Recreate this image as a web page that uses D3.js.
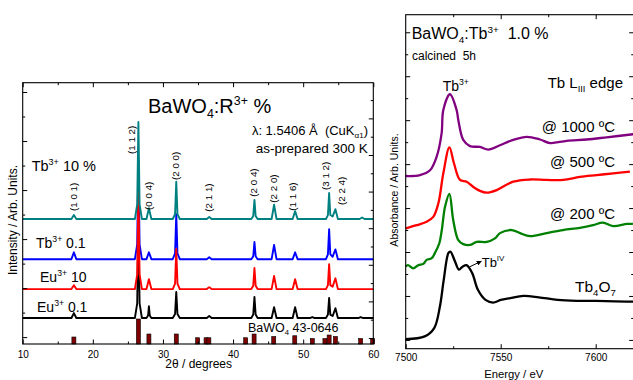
<!DOCTYPE html>
<html>
<head>
<meta charset="utf-8">
<script src="https://cdn.jsdelivr.net/npm/d3@7"></script>
<style>
  body { margin: 0; background: #fff; }
  svg { display: block; font-family: 'Liberation Sans', Arial, sans-serif; }
  text { white-space: pre; }
</style>
</head>
<body>
<div id="chart"></div>
<script>
// ---- left panel data: XRD patterns, [2theta, intensity above the pattern's own baseline]
// drawn bottom to top: Eu 0.1, Tb 0.1, Eu 10, Tb 10
const xrdColors = ['#000000', '#0000ff', '#ff0000', '#008080'];
const xrdOffsets = [0.39, 1.59, 0.98, 2.41];

const xrdEu01 = [
  [10, 0], [16.95, 0], [17.3, 0.10], [17.65, 0],
  [26.0, 0], [26.33, 0.3], [26.5, 2.0], [26.67, 0.3], [27.0, 0],
  [27.65, 0], [27.88, 0.05], [28.0, 0.24], [28.12, 0.05], [28.35, 0],
  [31.4, 0], [31.73, 0.08], [31.9, 0.53], [32.07, 0.08], [32.4, 0],
  [36.25, 0], [36.6, 0.04], [36.95, 0],
  [42.6, 0], [42.88, 0.07], [43.05, 0.43], [43.22, 0.07], [43.5, 0],
  [45.5, 0], [45.85, 0.22], [46.2, 0],
  [48.5, 0], [48.85, 0.22], [49.2, 0],
  [50.95, 0], [51.3, 0.02], [51.65, 0],
  [53.25, 0], [53.53, 0.07], [53.7, 0.41], [53.87, 0.07], [54.2, 0.04],
  [54.6, 0.2], [54.95, 0],
  [57.85, 0], [58.2, 0.02], [58.55, 0], [60, 0]
];
const xrdTb01 = [
  [10, 0], [16.95, 0], [17.3, 0.14], [17.65, 0],
  [26.0, 0], [26.33, 0.3], [26.5, 2.0], [26.67, 0.3], [27.0, 0],
  [27.65, 0], [28.0, 0.14], [28.35, 0],
  [31.4, 0], [31.73, 0.12], [31.9, 0.92], [32.07, 0.12], [32.4, 0],
  [36.25, 0], [36.6, 0.04], [36.95, 0],
  [42.6, 0], [42.88, 0.06], [43.05, 0.35], [43.22, 0.06], [43.5, 0],
  [45.5, 0], [45.85, 0.29], [46.2, 0],
  [48.5, 0], [48.85, 0.14], [49.2, 0],
  [53.25, 0], [53.53, 0.1], [53.7, 0.61], [53.87, 0.1], [54.2, 0.05],
  [54.6, 0.2], [54.95, 0], [60, 0]
];
const xrdEu10 = [
  [10, 0], [16.95, 0], [17.3, 0.08], [17.65, 0],
  [26.0, 0], [26.33, 0.3], [26.5, 2.0], [26.67, 0.3], [27.0, 0],
  [27.65, 0], [28.0, 0.2], [28.35, 0],
  [31.4, 0], [31.73, 0.11], [31.9, 0.82], [32.07, 0.11], [32.4, 0],
  [36.25, 0], [36.6, 0.04], [36.95, 0],
  [42.6, 0], [42.88, 0.07], [43.05, 0.43], [43.22, 0.07], [43.5, 0],
  [45.5, 0], [45.85, 0.27], [46.2, 0],
  [48.5, 0], [48.85, 0.2], [49.2, 0],
  [53.25, 0], [53.53, 0.08], [53.7, 0.51], [53.87, 0.08], [54.2, 0.05],
  [54.6, 0.22], [54.95, 0], [60, 0]
];
const xrdTb10 = [
  [10, 0], [16.95, 0], [17.3, 0.08], [17.65, 0],
  [26.0, 0], [26.33, 0.3], [26.5, 1.98], [26.67, 0.3], [27.0, 0],
  [27.65, 0], [28.0, 0.22], [28.35, 0],
  [31.4, 0], [31.73, 0.1], [31.9, 0.76], [32.07, 0.1], [32.4, 0],
  [36.25, 0], [36.6, 0.04], [36.95, 0],
  [42.6, 0], [42.88, 0.06], [43.05, 0.39], [43.22, 0.06], [43.5, 0],
  [45.5, 0], [45.85, 0.29], [46.2, 0],
  [48.5, 0], [48.85, 0.16], [49.2, 0],
  [53.25, 0], [53.53, 0.08], [53.7, 0.53], [53.87, 0.08], [54.2, 0.05],
  [54.6, 0.2], [54.95, 0],
  [58.05, 0], [58.4, 0.03], [58.75, 0], [60, 0]
];
const xrdSeries = [xrdEu01, xrdTb01, xrdEu10, xrdTb10];

// reference card BaWO4 43-0646
const pdfPos = [17.3, 26.5, 28.0, 31.9, 34.95, 36.15, 36.55, 41.8, 43.0, 45.8, 48.8, 51.3, 53.1, 53.7, 54.6, 58.2, 59.9];
const pdfInt = [28, 100, 40, 40, 25, 25, 25, 25, 40, 30, 33, 22, 22, 36, 30, 22, 22];

const millerLabels = ['(1 0 1)', '(1 1 2)', '(0 0 4)', '(2 0 0)', '(2 1 1)', '(2 0 4)', '(2 2 0)', '(1 1 6)', '(3 1 2)', '(2 2 4)'];
const millerX = [73, 131, 148.3, 175, 209, 254, 274, 293, 325.7, 341];
const millerBottom = [211, 154, 210, 180, 211.7, 196.7, 202.7, 210.7, 190, 205];

const xrdTicks = [10, 20, 30, 40, 50, 60];

// ---- right panel data: Tb L3-edge XANES, [energy eV, absorbance]
const xanesColors = ['#000000', '#008000', '#ff0000', '#800080'];
const xanesTb4O7 = [
  [7500, 0.02], [7510, 0.08], [7515, 0.27], [7518, 0.76], [7520, 1.36], [7522.5, 1.98],
  [7523.5, 2.01], [7526, 1.78], [7528, 1.60], [7530, 1.67], [7532, 1.70], [7535, 1.52],
  [7538, 1.14], [7542, 0.91], [7546, 0.85], [7550, 0.91], [7555, 0.95], [7562, 1.00],
  [7570, 0.97], [7580, 0.91], [7590, 0.89], [7600, 0.89], [7620, 0.87]
];
const xanes200 = [
  [7500, 1.67], [7501.2, 1.70], [7504, 1.63], [7506.6, 1.70], [7509.3, 1.73], [7511, 1.82],
  [7513.7, 1.86], [7515.4, 1.98], [7517.7, 2.20], [7519, 2.5], [7520.7, 3.03], [7523, 3.32],
  [7525, 2.73], [7527.7, 2.27], [7530.3, 2.18], [7533.8, 2.16], [7537.4, 2.23], [7542.6, 2.23],
  [7547, 2.31], [7549.6, 2.43], [7555.8, 2.5], [7560.2, 2.43], [7565.4, 2.36], [7574.2, 2.43],
  [7582.8, 2.5], [7591.7, 2.55], [7598.6, 2.61], [7603.8, 2.67], [7609.1, 2.59], [7616.5, 2.64],
  [7619.6, 2.64]
];
const xanes500 = [
  [7500, 2.54], [7505.8, 2.61], [7511, 2.69], [7514.5, 2.80], [7517.2, 3.11], [7519.8, 3.79],
  [7523, 4.38], [7525.4, 4.02], [7528.6, 3.64], [7532.1, 3.60], [7535.6, 3.48], [7539.1, 3.39],
  [7542.6, 3.35], [7547.9, 3.41], [7556.6, 3.60], [7565.4, 3.65], [7574.2, 3.64], [7582.9, 3.64],
  [7591.7, 3.71], [7600.5, 3.75], [7609.3, 3.79], [7618, 3.83]
];
const xanes1000 = [
  [7500, 3.73], [7507.5, 3.75], [7512.8, 3.86], [7516.3, 4.17], [7518.9, 4.70], [7519.8, 5.23],
  [7523.3, 5.59], [7526.8, 5.23], [7527.7, 5.0], [7530.3, 4.55], [7533.8, 4.41], [7539.1, 4.39],
  [7543.5, 4.33], [7549.6, 4.43], [7556.6, 4.55], [7563.7, 4.62], [7570.7, 4.56], [7576, 4.48],
  [7584.7, 4.53], [7595.3, 4.56], [7605.8, 4.61], [7619.8, 4.68]
];
const xanesSeries = [xanesTb4O7, xanes200, xanes500, xanes1000];
const energyTicks = [7500, 7550, 7600];

const FONT = "'Liberation Sans', Arial, sans-serif";

const svg = d3.select('#chart').append('svg').attr('width', 633).attr('height', 380);

svg.append('defs').append('marker')
  .attr('id', 'arrow').attr('viewBox', '0 0 10 10').attr('refX', 9).attr('refY', 5)
  .attr('markerWidth', 5).attr('markerHeight', 5).attr('orient', 'auto')
  .append('path').attr('d', 'M0,0L10,5L0,10z').attr('fill', '#000');

function addAxis(orient, scale, major, minor, tx, ty, labels, pad) {
  const make = { bottom: d3.axisBottom, top: d3.axisTop, left: d3.axisLeft, right: d3.axisRight }[orient];
  const gMinor = svg.append('g').attr('transform', `translate(${tx},${ty})`)
    .call(make(scale).tickValues(minor).tickSize(-2.5).tickSizeOuter(0).tickFormat(''));
  const gMajor = svg.append('g').attr('transform', `translate(${tx},${ty})`)
    .call(make(scale).tickValues(major).tickSize(-4.5).tickSizeOuter(0).tickPadding(pad || 4)
      .tickFormat(labels ? d3.format('d') : ''));
  [gMinor, gMajor].forEach(g => {
    g.select('.domain').remove();
    g.selectAll('line').attr('stroke', '#000').attr('stroke-width', 1);
  });
  gMajor.selectAll('text').attr('font-size', 10).attr('font-family', FONT).attr('fill', '#000');
}

// rich text with sub/superscripts
function label(x, y, parts, size, opts = {}) {
  const t = svg.append('text').attr('x', x).attr('y', y).attr('font-size', size)
    .attr('fill', '#000').attr('text-anchor', opts.anchor || 'start');
  if (opts.rotate) t.attr('transform', `rotate(-90,${x},${y})`);
  let shift = 0;
  parts.forEach(p => {
    const [s, kind] = typeof p === 'string' ? [p, null] : p;
    const target = kind === 'sup' ? -0.42 * size : kind === 'sub' ? 0.25 * size : 0;
    t.append('tspan').attr('dy', target - shift).attr('font-size', kind ? size * 0.62 : size).text(s);
    shift = target;
  });
  return t;
}

// ================= left panel =================
const x = d3.scaleLinear().domain([10, 60]).range([22.7, 373.3]);
const y = d3.scaleLinear().domain([-0.14, 5.19]).range([344, 82.7]);
const yRight = d3.scaleLinear().domain([-0.164, 6.975]).range([344, 82.7]);
const yPdf = d3.scaleLinear().domain([0, 100]).range([344, 319]);

const line = (off) => d3.line().x(d => x(d[0])).y(d => y(d[1] + off));

xrdSeries.forEach((s, i) => {
  svg.append('path').datum(s)
    .attr('d', line(xrdOffsets[i]))
    .attr('fill', 'none').attr('stroke', xrdColors[i])
    .attr('stroke-width', 1.9).attr('stroke-linejoin', 'round');
});

svg.append('g').selectAll('rect').data(pdfPos).join('rect')
  .attr('x', d => x(d) - 2).attr('width', 4)
  .attr('y', (d, i) => yPdf(pdfInt[i])).attr('height', (d, i) => yPdf(0) - yPdf(pdfInt[i]))
  .attr('fill', '#800000').attr('stroke', '#000').attr('stroke-width', 0.6);

svg.append('rect').attr('x', x(10)).attr('y', y.range()[1])
  .attr('width', x(60) - x(10)).attr('height', y.range()[0] - y.range()[1])
  .attr('fill', 'none').attr('stroke', '#000').attr('stroke-width', 1.1);

addAxis('bottom', x, xrdTicks, [15, 25, 35, 45, 55], 0, 344, true, 6.5);
addAxis('top', x, xrdTicks, [15, 25, 35, 45, 55], 0, 82.7, false);
addAxis('left', y, [0, 1, 2, 3, 4, 5], [0.5, 1.5, 2.5, 3.5, 4.5], 22.7, 0, false);
addAxis('right', yRight, [0, 1, 2, 3, 4, 5, 6], [0.5, 1.5, 2.5, 3.5, 4.5, 5.5, 6.5], 373.3, 0, false);

millerLabels.forEach((m, i) => label(millerX[i] + 3.5, millerBottom[i], [m], 9.8, { rotate: true }));

label(198.7, 368.3, ['2θ / degrees'], 12, { anchor: 'middle' });
label(17, 220, ['Intensity / Arb. Units.'], 12, { anchor: 'middle', rotate: true });

label(148, 113.3, ['BaWO', ['4', 'sub'], ':R', ['3+', 'sup'], ' %'], 20);
label(368, 135, ['λ: 1.5406 Å  (CuK', ['α1', 'sub'], ')'], 13, { anchor: 'end' });
label(367.7, 153, ['as-prepared 300 K'], 13.5, { anchor: 'end' });
label(31.7, 170.7, ['Tb', ['3+', 'sup'], ' 10 %'], 14.5);
label(36, 248, ['Tb', ['3+', 'sup'], ' 0.1'], 14);
label(40, 281.7, ['Eu', ['3+', 'sup'], ' 10'], 14);
label(37, 311.7, ['Eu', ['3+', 'sup'], ' 0.1'], 14);
label(248, 331.7, ['BaWO', ['4', 'sub'], ' 43-0646'], 12.5);

// ================= right panel =================
const xE = d3.scaleLinear().domain([7500, 7620]).range([405.7, 633.7]);
const yE = d3.scaleLinear().domain([-0.2, 7.4]).range([348.7, 14.7]);

const lineE = d3.line().x(d => xE(d[0])).y(d => yE(d[1])).curve(d3.curveCatmullRom.alpha(0.5));

xanesSeries.forEach((s, i) => {
  svg.append('path').datum(s).attr('d', lineE)
    .attr('fill', 'none').attr('stroke', xanesColors[i])
    .attr('stroke-width', 2.3).attr('stroke-linejoin', 'round');
});

svg.append('rect').attr('x', xE(7500)).attr('y', yE.range()[1])
  .attr('width', xE(7620) - xE(7500)).attr('height', yE.range()[0] - yE.range()[1])
  .attr('fill', 'none').attr('stroke', '#000').attr('stroke-width', 1.1);

addAxis('bottom', xE, energyTicks, [7525, 7575], 0, 348.7, true, 5);
addAxis('top', xE, [7550, 7600], [7525, 7575], 0, 14.7, false);
addAxis('left', yE, d3.range(0, 8), d3.range(0.5, 7.5, 1), 405.7, 0, false);
addAxis('right', yE, d3.range(0, 8), d3.range(0.5, 7.5, 1), 633.7, 0, false);

label(513.7, 378, ['Energy / eV'], 11.3, { anchor: 'middle' });
label(398, 190, ['Absorbance / Arb. Units.'], 10.5, { anchor: 'middle', rotate: true });

label(411.7, 39.3, ['BaWO', ['4', 'sub'], ':Tb', ['3+', 'sup'], '  1.0 %'], 16);
label(412, 60, ['calcined  5h'], 12);
label(442.7, 90.7, ['Tb', ['3+', 'sup']], 14);
label(623, 88, ['Tb L', ['III', 'sub'], ' edge'], 15, { anchor: 'end' });
label(615, 132, ['@ 1000 ºC'], 15, { anchor: 'end' });
label(615, 167.3, ['@ 500 ºC'], 15, { anchor: 'end' });
label(615, 219, ['@ 200 ºC'], 15, { anchor: 'end' });
label(481.7, 266.7, ['Tb', ['IV', 'sup']], 13);
label(575, 291.7, ['Tb', ['4', 'sub'], 'O', ['7', 'sub']], 15.5);

svg.append('line')
  .attr('x1', xE(7533.5)).attr('y1', yE(1.66))
  .attr('x2', xE(7539.8)).attr('y2', yE(1.79))
  .attr('stroke', '#000').attr('stroke-width', 1).attr('marker-end', 'url(#arrow)');
</script>
</body>
</html>
